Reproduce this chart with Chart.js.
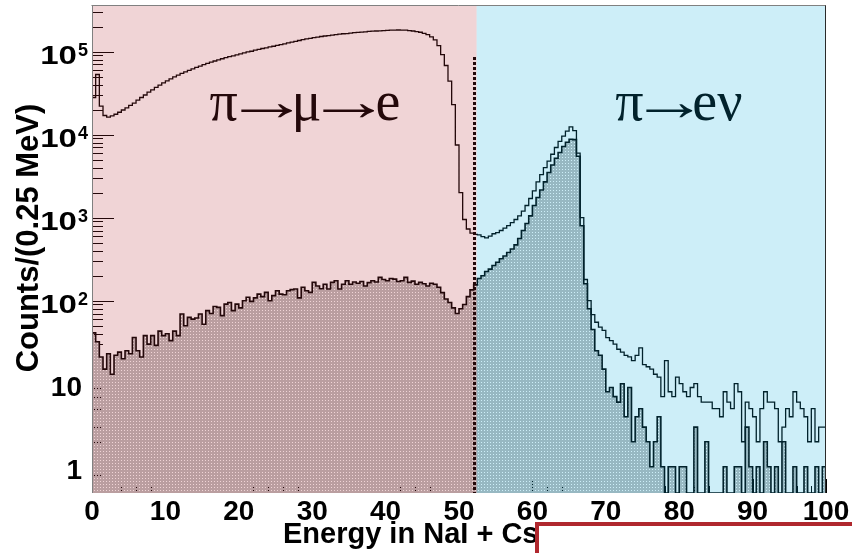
<!DOCTYPE html>
<html>
<head>
<meta charset="utf-8">
<script src="https://cdn.jsdelivr.net/npm/chart.js@4.4.1/dist/chart.umd.min.js"></script>
<style>
  html, body { margin: 0; padding: 0; background: #fff; }
  canvas { display: block; }
</style>
</head>
<body>
<canvas id="spectrum" width="852" height="553" style="width:852px;height:553px"></canvas>
<script>
// Energy spectrum: counts per bin, bins of 0.5 MeV from 0 to 100 MeV
const binWidth = 0.5;
const energyRange = [0, 100];
const countRange = [0.483, 3.54e5];

// all events (unfilled histogram)
const allEvents = [
  28000, 53000, 22000, 17000, 16200, 16800, 17600, 18600, 19800, 21000,
  22500, 24000, 26000, 28000, 30000, 32500, 34500, 37000, 39500, 42000,
  44500, 47000, 49500, 52000, 54500, 57000, 59500, 62000, 64500, 67000,
  69500, 72000, 74500, 77000, 79500, 82000, 84500, 87000, 89000, 91500,
  94000, 96500, 99000, 101000, 104000, 106500, 109000, 111000, 114000, 116000,
  119000, 121000, 124000, 127000, 130000, 133000, 136000, 139000, 142000, 144000,
  147000, 149000, 152000, 154000, 156000, 158000, 160000, 162000, 164000, 165000,
  167000, 169000, 170000, 172000, 173000, 175000, 176000, 177000, 178000, 179000,
  180000, 181000, 181500, 182000, 181500, 181000, 179000, 177000, 174000, 171000,
  166000, 160000, 150000, 138000, 118000, 92000, 68000, 44000, 23000, 7500,
  2000, 950, 730, 650, 630, 620, 590, 570, 600, 640,
  660, 700, 750, 800, 870, 950, 1050, 1200, 1400, 1700,
  2100, 2700, 3300, 4000, 4800, 5800, 7000, 8300, 9600, 11000,
  12400, 11200, 6000, 1000, 180, 100, 68, 55, 48, 44,
  36, 33, 30, 26, 24, 22, 21, 19, 22, 27,
  17, 16, 15, 13, 12, 7, 19, 8, 7, 12,
  10, 8, 7, 9, 10, 7, 6, 6, 6, 5,
  5, 4, 8, 6, 5, 10, 8, 2, 6, 5,
  4, 2, 5, 8, 6, 6, 5, 2, 3, 5,
  4, 8, 6, 5, 4, 2, 5, 2, 3, 3
];

// events after the suppression cuts (filled histogram); 0 = empty bin
const suppressed = [
  41, 32, 21, 15, 23, 13, 22, 24, 20, 25,
  23, 36, 25, 21, 38, 30, 38, 29, 43, 38,
  40, 33, 43, 38, 69, 50, 63, 60, 62, 69,
  52, 76, 70, 85, 83, 66, 91, 95, 76, 91,
  82, 100, 110, 98, 108, 120, 112, 126, 100, 115,
  132, 120, 118, 132, 136, 138, 108, 145, 132, 126,
  166, 150, 139, 158, 138, 166, 174, 138, 158, 174,
  158, 168, 162, 170, 150, 165, 174, 168, 191, 180,
  174, 185, 182, 170, 174, 191, 166, 172, 158, 166,
  160, 150, 162, 158, 145, 125, 105, 95, 82, 70,
  80, 90, 112, 135, 155, 185, 200, 225, 240, 265,
  290, 320, 345, 380, 420, 470, 560, 700, 850, 1050,
  1400, 1750, 2150, 2700, 3500, 4300, 5200, 6100, 7200, 8100,
  8800, 8700, 5500, 800, 160, 80, 45, 25, 22, 15,
  8, 9, 7, 6, 10, 4, 9, 2, 4, 5,
  3, 2, 1, 2, 4, 1, 0, 1, 1, 0,
  1, 1, 0, 0, 3, 0, 0, 2, 0, 0,
  0, 0, 1, 0, 0, 1, 1, 0, 3, 1,
  0, 1, 0, 2, 1, 0, 1, 0, 2, 0,
  0, 1, 0, 0, 1, 0, 0, 1, 0, 1
];

const xTickValues = [0, 10, 20, 30, 40, 50, 60, 70, 80, 90, 100];
const yTickDecades = [0, 1, 2, 3, 4, 5];
const energyCut = 52;          // MeV, dashed separation line
const cutLineTop = 8.5e4;      // counts, upper end of the dashed line
const regionSplit = 52.4;      // MeV, boundary between the shaded regions
const processLabels = [
  { parts: ['π', '→', 'μ', '→', 'e'], energy: 16.0, arrow: 52, gap: 3 },
  { parts: ['π', '→', 'e', 'ν'], energy: 71.3, arrow: 47, gap: 2 }
];
const processLabelCounts = 1.5e4;

// histogram as a stepped line: one point per lower bin edge, plus the last upper edge;
// empty bins sit on the bottom of the frame as on a log axis
function histogramPoints(counts) {
  const pts = counts.map((c, i) => ({ x: energyRange[0] + i * binWidth, y: c > 0 ? c : countRange[0] }));
  const last = counts[counts.length - 1];
  pts.push({ x: energyRange[0] + counts.length * binWidth, y: last > 0 ? last : countRange[0] });
  return pts;
}

// dotted fill pattern: grey cells with a regular grid of open dots
function stipplePattern() {
  const tile = document.createElement('canvas');
  tile.width = 3; tile.height = 3;
  const t = tile.getContext('2d');
  t.fillStyle = 'rgb(188,188,188)';
  t.fillRect(0, 0, 3, 3);
  t.clearRect(1, 1, 1, 1);
  return document.getElementById('spectrum').getContext('2d').createPattern(tile, 'repeat');
}

const SANS = '"Liberation Sans", Arial, Helvetica, sans-serif';
const SERIF = '"Liberation Serif", "Times New Roman", serif';

function text(ctx, str, x, y, font, align, sx, sy) {
  ctx.save();
  ctx.font = font;
  ctx.textAlign = align;
  ctx.textBaseline = 'alphabetic';
  ctx.translate(x, y);
  ctx.scale(sx || 1, sy || 1);
  ctx.fillText(str, 0, 0);
  ctx.restore();
}

// a reaction written glyph by glyph, with long arrows between the particles
function reaction(ctx, label, left, baseline) {
  ctx.save();
  ctx.font = '56px ' + SERIF;
  ctx.textAlign = 'left';
  ctx.textBaseline = 'alphabetic';
  let pen = left;
  label.parts.forEach(p => {
    const m = ctx.measureText(p);
    const inkL = m.actualBoundingBoxLeft;
    const ink = m.actualBoundingBoxLeft + m.actualBoundingBoxRight;
    const sx = p === '→' ? label.arrow / ink : 1;
    ctx.save();
    ctx.translate(pen + inkL * sx, baseline);
    ctx.scale(sx, 1);
    ctx.fillText(p, 0, 0);
    ctx.restore();
    pen += ink * sx + label.gap;
  });
  ctx.restore();
}

const decor = {
  id: 'decor',
  beforeDraw(chart) {
    const ctx = chart.ctx;
    ctx.save();
    ctx.fillStyle = '#fff';
    ctx.fillRect(0, 0, chart.width, chart.height);
    ctx.restore();
  },
  // inward ticks, drawn below the histograms
  beforeDatasetsDraw(chart) {
    const { ctx, chartArea: a, scales: { x, y } } = chart;
    ctx.save();
    ctx.strokeStyle = '#000';
    ctx.lineWidth = 1;
    ctx.beginPath();
    for (let n = -1; n <= 5; n++) {
      for (let k = 1; k <= 9; k++) {
        const v = k * Math.pow(10, n);
        if (v < countRange[0] || v > countRange[1]) continue;
        const py = Math.round(y.getPixelForValue(v)) + 0.5;
        const len = k === 1 ? 22 : 11;
        ctx.moveTo(a.left, py);
        ctx.lineTo(a.left + len, py);
      }
    }
    for (let v = energyRange[0]; v <= energyRange[1]; v += 2) {
      const px = Math.round(x.getPixelForValue(v)) + 0.5;
      const len = v % 10 === 0 ? 14 : 7;
      ctx.moveTo(px, a.bottom);
      ctx.lineTo(px, a.bottom - len);
    }
    ctx.stroke();
    ctx.restore();
  },
  afterDatasetsDraw(chart) {
    const { ctx, chartArea: a, scales: { x, y } } = chart;

    // dashed separation line
    ctx.save();
    ctx.strokeStyle = '#000';
    ctx.lineWidth = 3;
    ctx.setLineDash([3, 2]);
    ctx.beginPath();
    const cx = Math.round(x.getPixelForValue(energyCut)) + 0.5;
    ctx.moveTo(cx, Math.round(y.getPixelForValue(cutLineTop)));
    ctx.lineTo(cx, a.bottom);
    ctx.stroke();
    ctx.restore();

    // decay-channel labels
    ctx.fillStyle = '#000';
    processLabels.forEach(l => {
      reaction(ctx, l, x.getPixelForValue(l.energy), y.getPixelForValue(processLabelCounts));
    });

    // translucent region shading
    const split = x.getPixelForValue(regionSplit);
    ctx.save();
    ctx.fillStyle = 'rgba(180,40,50,0.2)';
    ctx.fillRect(a.left, a.top, split - a.left, a.bottom - a.top);
    ctx.fillStyle = 'rgba(5,170,220,0.2)';
    ctx.fillRect(split, a.top, a.right - split, a.bottom - a.top);
    ctx.restore();

    // frame
    ctx.save();
    ctx.lineWidth = 1;
    ctx.strokeStyle = '#808080';
    ctx.beginPath();
    ctx.moveTo(a.left - 0.5, a.top - 0.5); ctx.lineTo(a.right, a.top - 0.5);
    ctx.moveTo(a.left + 0.5, a.top - 0.5); ctx.lineTo(a.left + 0.5, a.bottom);
    ctx.stroke();
    ctx.strokeStyle = '#2a2a2a';
    ctx.beginPath();
    ctx.moveTo(a.right - 0.5, a.top - 0.5); ctx.lineTo(a.right - 0.5, a.bottom);
    ctx.stroke();
    ctx.restore();

    // tick labels
    ctx.save();
    ctx.fillStyle = '#000';
    yTickDecades.forEach(n => {
      const py = y.getPixelForValue(Math.pow(10, n));
      if (n === 0) {
        text(ctx, '1', 82, py + 12.5, 'bold 28px ' + SANS, 'right');
      } else if (n === 1) {
        text(ctx, '10', 82, py + 12.5, 'bold 28px ' + SANS, 'right');
      } else {
        text(ctx, '10', 77, py + 12, 'bold 28px ' + SANS, 'right', 1.18, 0.9);
        text(ctx, String(n), 78, py + 4, 'bold 18px ' + SANS, 'left');
      }
    });
    xTickValues.forEach(v => {
      text(ctx, String(v), x.getPixelForValue(v), a.bottom + 27, 'bold 28px ' + SANS, 'center');
    });

    // axis titles
    text(ctx, 'Energy in NaI + CsI', 283, 543, 'bold 29px ' + SANS, 'left');
    ctx.save();
    ctx.translate(38, 238);
    ctx.rotate(-Math.PI / 2);
    text(ctx, 'Counts/(0.25 MeV)', 0, 0, 'bold 31px ' + SANS, 'center');
    ctx.restore();
    ctx.restore();

    // framed caption box at the lower right
    ctx.save();
    ctx.fillStyle = '#fff';
    ctx.fillRect(537, 524, 330, 60);
    ctx.strokeStyle = '#b0282e';
    ctx.lineWidth = 4;
    ctx.strokeRect(537, 524, 330, 60);
    ctx.restore();
  }
};

new Chart(document.getElementById('spectrum'), {
  type: 'line',
  data: {
    datasets: [
      {
        label: 'all events',
        data: histogramPoints(allEvents),
        borderColor: '#000',
        borderWidth: 1.3,
        stepped: true,
        fill: false,
        pointRadius: 0
      },
      {
        label: 'suppressed',
        data: histogramPoints(suppressed),
        borderColor: '#000',
        borderWidth: 1.6,
        stepped: true,
        fill: 'start',
        backgroundColor: stipplePattern(),
        pointRadius: 0
      }
    ]
  },
  options: {
    responsive: false,
    animation: false,
    devicePixelRatio: 1,
    layout: { padding: { left: 92, right: 26, top: 6, bottom: 60 } },
    plugins: { legend: { display: false }, tooltip: { enabled: false } },
    scales: {
      x: { type: 'linear', min: energyRange[0], max: energyRange[1], display: false },
      y: { type: 'logarithmic', min: countRange[0], max: countRange[1], display: false }
    }
  },
  plugins: [decor]
});
</script>
</body>
</html>
